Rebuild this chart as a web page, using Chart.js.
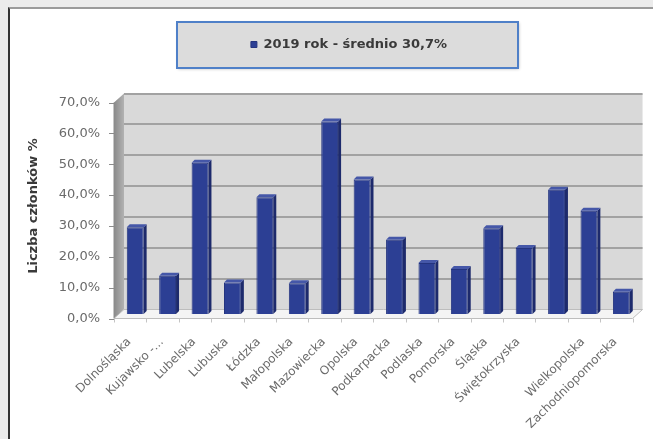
<!DOCTYPE html>
<html lang="pl">
<head>
<meta charset="utf-8">
<title>Liczba członków %</title>
<script src="https://cdn.jsdelivr.net/npm/chart.js@4.4.1/dist/chart.umd.min.js"></script>
<style>
  html, body { margin: 0; padding: 0; background: #ebebeb; overflow: hidden; }
  #frame { position: absolute; left: 8px; top: 7px; width: 660px; height: 440px; background: #fff;
           border-left: 2px solid #333; border-top: 2px solid #9a9a9a; }
  #chart { position: absolute; left: 0; top: 0; }
</style>
</head>
<body>
<div id="frame"></div>
<canvas id="chart" width="653" height="439"></canvas>
<script>
// województwa (14th label is empty in the source picture)
const regions = ['Dolnośląska', 'Kujawsko -...', 'Lubelska', 'Lubuska', 'Łódzka', 'Małopolska',
  'Mazowiecka', 'Opolska', 'Podkarpacka', 'Podlaska', 'Pomorska', 'Śląska', 'Świętokrzyska',
  '', 'Wielkopolska', 'Zachodniopomorska'];
const members2019 = [28.1, 12.4, 49.0, 10.2, 37.8, 10.0, 62.4, 43.6, 24.1, 16.5, 14.6, 27.8, 21.4, 40.3, 33.5, 7.2];
const yTicks = [0, 10, 20, 30, 40, 50, 60, 70];
const seriesName = '2019 rok - średnio 30,7%';

const BAR = '#2c3f94';
const DX = 5, DY = 4.5;   // fake 3D depth offset

const fmt = v => v.toFixed(1).replace('.', ',') + '%';

Chart.defaults.font.family = "'DejaVu Sans', sans-serif";

// extra room under the legend + move it over the grey box
const legendSpace = {
  id: 'legendSpace',
  beforeInit(chart) {
    const fit = chart.legend.fit;
    chart.legend.fit = function () {
      fit.bind(chart.legend)();
      this.height += 37;
    };
  },
  afterLayout(chart) {
    const lg = chart.legend;
    const p = lg.options.labels.padding;
    const lw = lg.lineWidths[0];
    const curX = (lg.left + p + lg.right - lw) / 2;
    const shift = 349 - (lw - p) / 2 - curX;
    lg.left += shift;
    lg.right += shift;
  },
  beforeDraw(chart) {
    const ctx = chart.ctx;
    ctx.save();
    ctx.shadowColor = 'rgba(0,0,0,0.25)';
    ctx.shadowBlur = 3;
    ctx.shadowOffsetX = 1;
    ctx.shadowOffsetY = 1;
    ctx.fillStyle = '#dcdcdc';
    ctx.fillRect(177, 22, 341, 46);
    ctx.shadowColor = 'transparent';
    ctx.strokeStyle = '#4f80c8';
    ctx.lineWidth = 2;
    ctx.strokeRect(177, 22, 341, 46);
    ctx.restore();
  }
};

// back wall, side wall, floor, gridlines and axis marks
const walls = {
  id: 'walls',
  beforeDatasetsDraw(chart) {
    const { ctx, chartArea: a, scales: { x, y } } = chart;
    ctx.save();
    ctx.fillStyle = '#d9d9d9';
    ctx.fillRect(a.left + DX, a.top - DY, a.width, a.height);

    const g = ctx.createLinearGradient(a.left - DX, 0, a.left + DX, 0);
    g.addColorStop(0, '#8a8a8a');
    g.addColorStop(1, '#b2b2b2');
    ctx.fillStyle = g;
    ctx.beginPath();
    ctx.moveTo(a.left - DX, a.top + DY);
    ctx.lineTo(a.left + DX, a.top - DY);
    ctx.lineTo(a.left + DX, a.bottom - DY);
    ctx.lineTo(a.left - DX, a.bottom + DY);
    ctx.closePath();
    ctx.fill();

    ctx.fillStyle = '#f4f4f4';
    ctx.strokeStyle = '#bdbdbd';
    ctx.lineWidth = 1;
    ctx.beginPath();
    ctx.moveTo(a.left - DX, a.bottom + DY);
    ctx.lineTo(a.right - DX, a.bottom + DY);
    ctx.lineTo(a.right + DX, a.bottom - DY);
    ctx.lineTo(a.left + DX, a.bottom - DY);
    ctx.closePath();
    ctx.fill();
    ctx.stroke();

    ctx.strokeStyle = '#a2a2a2';
    ctx.lineWidth = 2;
    y.ticks.forEach(t => {
      if (t.value === 0) return;
      const py = Math.round(y.getPixelForValue(t.value) - DY);
      ctx.beginPath();
      ctx.moveTo(a.left + DX, py);
      ctx.lineTo(a.right + DX, py);
      ctx.stroke();
    });

    ctx.strokeStyle = '#8c8c8c';
    ctx.lineWidth = 1;
    ctx.beginPath();
    ctx.moveTo(a.left - DX, a.top + DY);
    ctx.lineTo(a.left - DX, a.bottom + DY);
    y.ticks.forEach(t => {
      const py = Math.round(y.getPixelForValue(t.value) + DY) + 0.5;
      ctx.moveTo(a.left - DX - 5, py);
      ctx.lineTo(a.left - DX, py);
    });
    ctx.stroke();

    ctx.strokeStyle = '#c4c4c4';
    ctx.beginPath();
    for (let i = 0; i <= regions.length; i++) {
      const px = Math.round(x.getPixelForValue(i - 0.5) - DX) + 0.5;
      ctx.moveTo(px, a.bottom + DY);
      ctx.lineTo(px, a.bottom + DY + 4);
    }
    ctx.stroke();
    ctx.restore();
  },
  afterDatasetsDraw(chart) {
    const ctx = chart.ctx;
    const d = 3;
    ctx.save();
    chart.getDatasetMeta(0).data.forEach(el => {
      const { x, y, base, width } = el.getProps(['x', 'y', 'base', 'width'], true);
      const r = x + width / 2, l = x - width / 2;
      ctx.fillStyle = '#1d2a6c';
      ctx.beginPath();
      ctx.moveTo(r, y);
      ctx.lineTo(r + d, y - d);
      ctx.lineTo(r + d, base - d);
      ctx.lineTo(r, base);
      ctx.closePath();
      ctx.fill();
      ctx.fillStyle = '#4557a8';
      ctx.beginPath();
      ctx.moveTo(l, y);
      ctx.lineTo(l + d, y - d);
      ctx.lineTo(r + d, y - d);
      ctx.lineTo(r, y);
      ctx.closePath();
      ctx.fill();
    });
    ctx.restore();
  }
};

new Chart(document.getElementById('chart'), {
  type: 'bar',
  data: {
    labels: regions,
    datasets: [{
      label: seriesName,
      data: members2019,
      backgroundColor: BAR,
      borderColor: '#24347f',
      borderWidth: 1,
      categoryPercentage: 1,
      barPercentage: 0.52
    }]
  },
  options: {
    responsive: false,
    devicePixelRatio: 1,
    animation: false,
    layout: { padding: { top: 20, left: 22, right: 15, bottom: 0 } },
    plugins: {
      legend: {
        position: 'top',
        labels: {
          boxWidth: 6,
          boxHeight: 6,
          padding: 18,
          color: '#3a3a3a',
          font: { size: 13, weight: 'bold' }
        }
      },
      tooltip: { enabled: false }
    },
    scales: {
      x: {
        grid: { display: false, drawTicks: false },
        border: { display: false },
        ticks: {
          autoSkip: false,
          maxRotation: 45,
          minRotation: 45,
          padding: 21,
          labelOffset: -6,
          color: '#6a6a6a',
          font: { size: 12 }
        },
        afterFit(s) { s.height = 125; }
      },
      y: {
        min: yTicks[0],
        max: yTicks[yTicks.length - 1],
        grid: { display: false, drawTicks: false },
        border: { display: false },
        ticks: {
          stepSize: yTicks[1] - yTicks[0],
          padding: 19,
          labelOffset: DY,
          color: '#6a6a6a',
          font: { size: 13 },
          callback: v => fmt(v)
        },
        title: {
          display: true,
          text: 'Liczba członków %',
          color: '#3a3a3a',
          font: { size: 13, weight: 'bold' },
          padding: { top: 4, bottom: 4 }
        },
        afterFit(s) { s.width = 97; }
      }
    }
  },
  plugins: [legendSpace, walls]
});
</script>
</body>
</html>
